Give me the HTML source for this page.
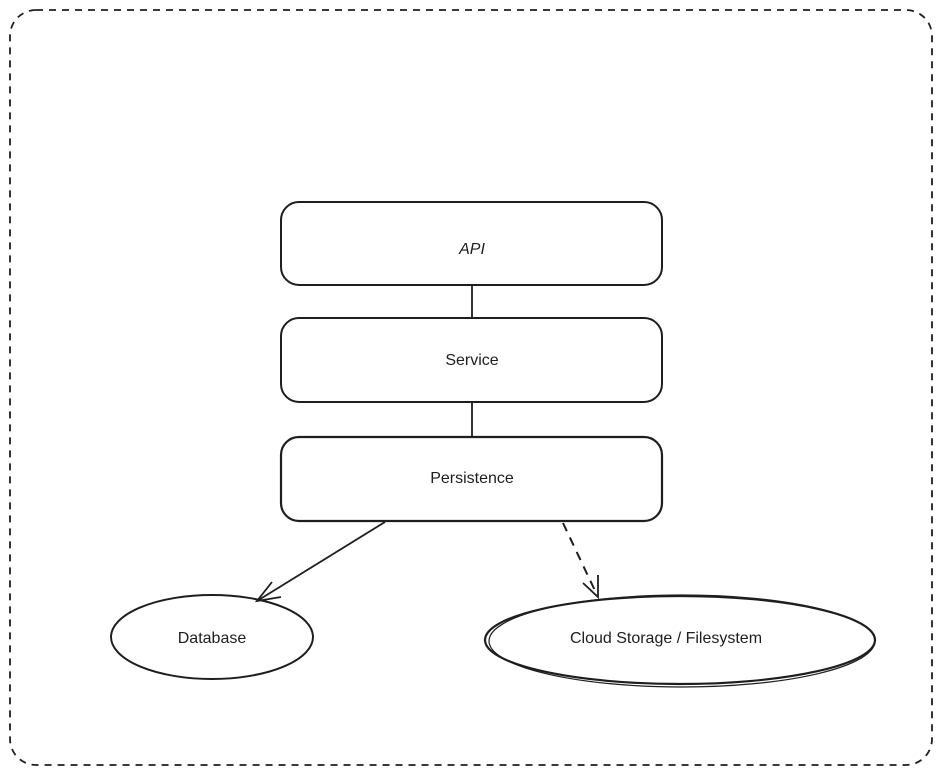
<!DOCTYPE html>
<html><head><meta charset="utf-8"><style>
html,body{margin:0;padding:0;background:#fff;}
svg{display:block}
text{font-family:"Liberation Sans",sans-serif;font-size:16px;fill:#1e1e1e}
</style></head><body>
<svg width="942" height="775" viewBox="0 0 942 775" xmlns="http://www.w3.org/2000/svg">
<rect x="10" y="10" width="922" height="755" rx="26" fill="none" stroke="#1e1e1e" stroke-width="1.8" stroke-dasharray="7 6"/>
<rect x="281" y="202" width="381" height="83" rx="18" fill="none" stroke="#1e1e1e" stroke-width="2"/>
<rect x="281" y="318" width="381" height="84" rx="18" fill="none" stroke="#1e1e1e" stroke-width="2"/>
<rect x="281" y="437" width="381" height="84" rx="18" fill="none" stroke="#1e1e1e" stroke-width="2.2"/>
<line x1="472" y1="285" x2="472" y2="318" stroke="#1e1e1e" stroke-width="1.8"/>
<line x1="472" y1="402" x2="472" y2="437" stroke="#1e1e1e" stroke-width="1.8"/>
<text x="472" y="254" text-anchor="middle" font-style="italic">API</text>
<text x="472" y="365" text-anchor="middle">Service</text>
<text x="472" y="483" text-anchor="middle">Persistence</text>
<ellipse cx="212" cy="637" rx="101" ry="42" fill="none" stroke="#1e1e1e" stroke-width="2"/>
<text x="212" y="643" text-anchor="middle">Database</text>
<ellipse cx="680" cy="640" rx="195" ry="44" fill="none" stroke="#1e1e1e" stroke-width="2.2"/>
<ellipse cx="682" cy="641" rx="193" ry="46" fill="none" stroke="#1e1e1e" stroke-width="1.2"/>
<text x="666" y="643" text-anchor="middle">Cloud Storage / Filesystem</text>
<path d="M385 522 L257 601" stroke="#1e1e1e" stroke-width="1.8" fill="none"/>
<path d="M272 582 L257 601 L281 597" stroke="#1e1e1e" stroke-width="1.8" fill="none"/>
<path d="M563 523 L598 597" stroke="#1e1e1e" stroke-width="2" fill="none" stroke-dasharray="9 7"/>
<path d="M583 583 L598 597 L598 575" stroke="#1e1e1e" stroke-width="1.8" fill="none"/>
</svg>
</body></html>
